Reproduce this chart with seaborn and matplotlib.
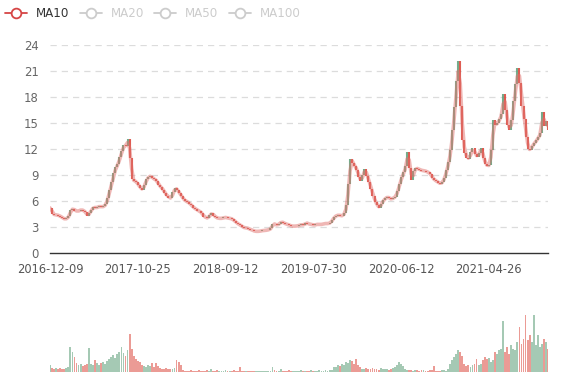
import numpy as np
import pandas as pd
import matplotlib
matplotlib.use("Agg")
import matplotlib.pyplot as plt
import seaborn as sns
from matplotlib.lines import Line2D

# Weekly closes (approximate)
close = [
    5.2, 4.5, 4.4, 4.4, 4.3, 4.2, 4.0, 3.9, 4.0, 4.3,
    5.0, 5.1, 4.9, 4.8, 4.9, 5.0, 4.9, 4.7, 4.3, 4.6,
    5.0, 5.3, 5.2, 5.3, 5.4, 5.3, 5.4, 5.6, 6.4, 7.3,
    8.2, 9.2, 9.9, 10.3, 11.1, 11.8, 12.5, 12.3, 13.2, 11.0,
    8.5, 8.3, 8.2, 7.8, 7.5, 7.3, 7.9, 8.5, 8.8, 8.9,
    8.6, 8.5, 8.3, 7.8, 7.6, 7.3, 6.9, 6.6, 6.4, 6.3,
    7.0, 7.5, 7.3, 6.9, 6.6, 6.2, 6.0, 5.9, 5.7, 5.5,
    5.2, 5.1, 4.9, 4.8, 4.6, 4.2, 4.1, 4.0, 4.4, 4.6,
    4.3, 4.1, 4.0, 4.0, 4.0, 4.1, 4.1, 4.0, 4.0, 3.9,
    3.7, 3.5, 3.3, 3.2, 3.0, 2.9, 2.9, 2.8, 2.7, 2.6,
    2.5, 2.5, 2.5, 2.55, 2.6, 2.6, 2.65, 2.7, 2.85, 3.4,
    3.3, 3.2, 3.4, 3.6, 3.5, 3.35, 3.3, 3.2, 3.1, 3.1,
    3.1, 3.15, 3.2, 3.3, 3.2, 3.5, 3.4, 3.3, 3.3, 3.2,
    3.3, 3.3, 3.3, 3.3, 3.4, 3.4, 3.4, 3.5, 3.8, 4.2,
    4.3, 4.4, 4.3, 4.3, 4.6, 5.5, 8.0, 10.9, 10.4, 10.0,
    9.6, 8.8, 8.3, 9.0, 9.7, 8.9, 8.2, 7.4, 6.6, 5.9,
    5.5, 5.2, 5.7, 6.1, 6.3, 6.5, 6.3, 6.2, 6.4, 6.5,
    7.2, 8.0, 8.8, 9.3, 10.0, 11.7, 9.8, 8.4, 9.5, 9.8,
    9.7, 9.6, 9.5, 9.5, 9.4, 9.3, 9.1, 8.7, 8.4, 8.3,
    8.1, 8.0, 8.2, 8.7, 9.6, 10.5, 11.9, 14.2, 16.8, 19.8,
    22.1, 17.0, 13.0, 11.5, 11.0, 10.9, 11.6, 12.1, 11.4, 11.1,
    11.5, 12.1, 11.0, 10.3, 10.0, 10.2, 11.9, 15.3, 14.8, 15.0,
    15.5, 16.0, 18.4, 16.5, 14.8, 14.2, 15.3, 17.5, 19.5, 21.3,
    19.6, 17.0, 15.5, 13.4, 12.0, 11.9, 12.4, 12.7, 13.0, 13.4,
    13.8, 16.3, 14.6, 15.2, 14.2,
]

# Weekly volume (relative units)
volume = [
    20, 12, 10, 11, 9, 12, 10, 9, 11, 14,
    75, 60, 45, 28, 22, 25, 18, 20, 24, 72,
    25, 22, 35, 28, 20, 26, 30, 24, 32, 40,
    45, 50, 42, 55, 60, 75, 58, 48, 65, 114,
    70, 48, 40, 32, 30, 20, 18, 16, 22, 18,
    28, 15, 28, 18, 12, 10, 9, 11, 10, 8,
    10, 12, 35, 30, 20, 5, 4, 3, 4, 5,
    3, 4, 3, 5, 4, 3, 4, 5, 3, 10,
    4, 3, 5, 4, 3, 4, 6, 4, 3, 4,
    5, 4, 3, 16, 3, 2, 3, 2, 3, 2,
    2, 3, 2, 3, 2, 3, 2, 3, 3, 14,
    5, 4, 3, 8, 4, 3, 4, 5, 3, 4,
    3, 4, 3, 5, 4, 3, 4, 3, 5, 4,
    3, 4, 5, 3, 4, 5, 4, 6, 5, 14,
    15, 20, 18, 25, 22, 30, 28, 35, 32, 25,
    38, 22, 15, 10, 8, 12, 9, 10, 12, 8,
    10, 7, 12, 9, 8, 10, 7, 9, 12, 14,
    20, 30, 24, 18, 8, 6, 5, 7, 4, 6,
    5, 4, 6, 5, 3, 4, 5, 6, 18, 4,
    3, 4, 5, 6, 4, 8, 25, 35, 45, 55,
    65, 60, 48, 25, 18, 20, 15, 22, 25, 40,
    22, 25, 35, 45, 38, 42, 30, 35, 60, 55,
    65, 70, 154, 60, 75, 55, 80, 70, 65, 90,
    135, 85, 100, 172, 95, 110, 90, 172, 80, 110,
    75, 85, 100, 90, 70,
]

tick_labels = ["2016-12-09", "2017-10-25", "2018-09-12",
               "2019-07-30", "2020-06-12", "2021-04-26"]
tick_step = 43
legend_names = ["MA10", "MA20", "MA50", "MA100"]
y_ticks = [0, 3, 6, 9, 12, 15, 18, 21, 24]

RISE = "#5c9e77"
FALL = "#dc4a3f"
MA_COLOR = "#e0706c"

sns.set_theme(style="white")
plt.rcParams["font.family"] = ["DejaVu Sans"]

n = len(close)
idx = np.arange(n)
c = np.array(close, dtype=float)
o = np.r_[c[0], c[:-1]]
rise = c >= o
df = pd.DataFrame({"i": idx, "close": c, "open": o, "vol": volume})
df["ma10"] = df["close"].rolling(2, min_periods=1).mean()

fig = plt.figure(figsize=(5.77, 3.80), dpi=100)
ax = fig.add_axes([50 / 577, 127 / 380, 498 / 577, 208 / 380])
axv = fig.add_axes([50 / 577, 8 / 380, 498 / 577, 72 / 380])

# candles
ax.vlines(idx[rise], o[rise], c[rise], color=RISE, lw=1.5, alpha=0.85, zorder=3)
ax.vlines(idx[~rise], o[~rise], c[~rise], color=FALL, lw=1.5, alpha=0.9, zorder=3)
sns.lineplot(data=df, x="i", y="ma10", ax=ax, color=MA_COLOR, lw=2.6,
             alpha=0.5, zorder=4)

ax.set_xlim(0, n - 1)
ax.set_ylim(0, 24)
ax.set_yticks(y_ticks)
ax.set_yticklabels([str(v) for v in y_ticks], color="#666666", fontsize=8.4)
ax.set_xticks(np.arange(len(tick_labels)) * tick_step)
ax.set_xticklabels(tick_labels, color="#555555", fontsize=8.3)
ax.set_xlabel("")
ax.set_ylabel("")
for v in y_ticks[1:]:
    ax.axhline(v, color="#dcdcdc", lw=0.9, ls=(0, (5, 4)), zorder=1)
for s in ["top", "right", "left"]:
    ax.spines[s].set_visible(False)
ax.spines["bottom"].set_color("#333333")
ax.spines["bottom"].set_linewidth(1.0)
ax.tick_params(axis="x", direction="out", length=5, width=1, color="#333333", pad=2)
ax.tick_params(axis="y", length=0, pad=8)

# volume
vcol = [RISE if r else FALL for r in rise]
axv.bar(idx, df["vol"], width=0.9, color=vcol, alpha=0.55, linewidth=0)
axv.set_xlim(0, n - 1)
axv.set_ylim(0, 216)
axv.axis("off")

handles = []
for k, name in enumerate(legend_names):
    col = "#d64545" if k == 0 else "#cccccc"
    handles.append(Line2D([], [], color=col, lw=1.3, marker="o", markersize=7,
                          markerfacecolor="white", markeredgewidth=1.3))
leg = fig.legend(handles, legend_names, loc="upper left",
                 bbox_to_anchor=(5 / 577, 1 - 7 / 380), ncol=4, frameon=False,
                 fontsize=8.6, handlelength=1.85, handletextpad=0.75,
                 columnspacing=0.85, borderpad=0, borderaxespad=0)
for k, t in enumerate(leg.get_texts()):
    t.set_color("#333333" if k == 0 else "#cccccc")

fig.savefig("out.png", dpi=100)
